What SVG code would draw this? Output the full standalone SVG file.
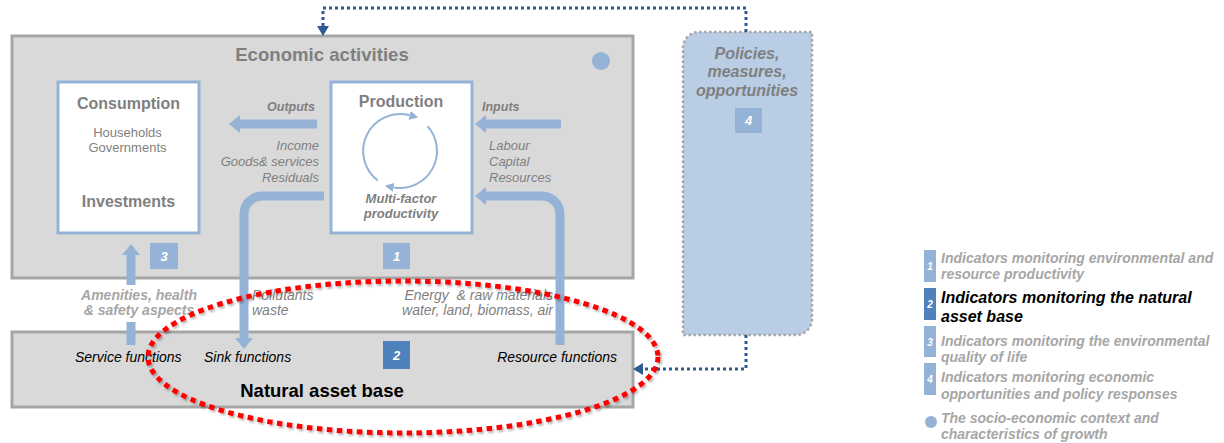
<svg xmlns="http://www.w3.org/2000/svg" width="1224" height="443" viewBox="0 0 1224 443">
<style>
text{font-family:"Liberation Sans",Arial,sans-serif;}
.box{fill:#d9d9d9;stroke:#a6a6a6;stroke-width:3;}
.inner{fill:#ffffff;stroke:#95b3d7;stroke-width:3;}
.flow{fill:none;stroke:#95b3d7;stroke-width:9;}
.cyc{fill:none;stroke:#95b3d7;stroke-width:2;}
.dot{fill:none;stroke:#2f5b92;stroke-width:3;stroke-dasharray:3 3;}
.h1{font-size:18.6px;font-weight:bold;fill:#7f7f7f;text-anchor:middle;}
.h2{font-size:16px;font-weight:bold;fill:#7f7f7f;text-anchor:middle;}
.sub{font-size:13px;fill:#7f7f7f;text-anchor:middle;}
.it{font-size:13px;font-style:italic;fill:#7f7f7f;}
.it2{font-size:14px;font-style:italic;fill:#7f7f7f;}
.bi{font-size:12.5px;font-style:italic;font-weight:bold;fill:#7f7f7f;}
.lit{font-size:14px;font-style:italic;font-weight:bold;fill:#a6a6a6;text-anchor:middle;}
.fn{font-size:14px;font-style:italic;fill:#000000;}
.badge{fill:#95b3d7;}
.badge2{fill:#4f81bd;}
.num{font-size:13px;font-style:italic;font-weight:bold;fill:#ffffff;text-anchor:middle;}
.lnum{font-size:10px;font-style:italic;font-weight:bold;fill:#ffffff;text-anchor:middle;}
.pol{font-size:16px;font-style:italic;font-weight:bold;fill:#7f7f7f;text-anchor:middle;}
.leg{font-size:14px;font-style:italic;font-weight:bold;fill:#a6a6a6;}
.leg2{font-size:16px;font-style:italic;font-weight:bold;fill:#000000;}
</style>
<defs>
<marker id="big" markerUnits="userSpaceOnUse" viewBox="0 0 11 18" markerWidth="11" markerHeight="18" refX="0" refY="9" orient="auto">
<path d="M0,0 L11,9 L0,18 Z" style="fill:#95b3d7;stroke:none"/>
</marker>
<marker id="small" markerUnits="userSpaceOnUse" viewBox="0 0 9 9" markerWidth="9" markerHeight="9" refX="0" refY="4.5" orient="auto">
<path d="M0,0 L9,4.5 L0,9 Z" style="fill:#95b3d7;stroke:none"/>
</marker>
<marker id="dk" markerUnits="userSpaceOnUse" viewBox="0 0 10 12" markerWidth="10" markerHeight="12" refX="0" refY="6" orient="auto">
<path d="M0,0 L10,6 L0,12 Z" style="fill:#2f5b92;stroke:none"/>
</marker>
<filter id="sh" x="-10%" y="-10%" width="120%" height="130%">
<feDropShadow dx="1.5" dy="2" stdDeviation="1.2" flood-color="#000000" flood-opacity="0.3"/>
</filter>
</defs>

<g id="economic-activities">
<rect class="box" x="12" y="36" width="621" height="242"/>
<text class="h1" x="322" y="61">Economic activities</text>
<circle cx="601" cy="61" r="9" fill="#95b3d7"/>
</g>

<g id="natural-asset-base">
<rect class="box" x="12" y="332" width="621" height="75"/>
<text x="322" y="397" style="font-size:18.5px;font-weight:bold;fill:#000;text-anchor:middle">Natural asset base</text>
<text class="fn" x="75" y="362">Service functions</text>
<text class="fn" x="204" y="362">Sink functions</text>
<text class="fn" x="617" y="362" text-anchor="end">Resource functions</text>
<rect class="badge2" x="383" y="341" width="27" height="28"/>
<text class="num" x="396.5" y="360">2</text>
</g>

<g id="consumption">
<rect class="inner" x="58" y="82" width="141" height="151"/>
<text class="h2" x="128.5" y="109">Consumption</text>
<text class="sub" x="127.5" y="137">Households</text>
<text class="sub" x="127.5" y="152">Governments</text>
<text class="h2" x="128.5" y="207">Investments</text>
<rect class="badge" x="150" y="243" width="28" height="26"/>
<text class="num" x="164" y="261">3</text>
</g>

<g id="production">
<rect class="inner" x="331" y="82" width="141" height="151"/>
<text class="h2" x="401" y="107">Production</text>
<path class="cyc" d="M377.7,180.5 A37,37 0 0 1 409.6,115.3" marker-end="url(#small)"/>
<path class="cyc" d="M427.5,126.2 A37,37 0 0 1 393.6,187.4" marker-end="url(#small)"/>
<text x="401" y="203" style="font-size:13px;font-style:italic;font-weight:bold;fill:#7f7f7f;text-anchor:middle">Multi-factor</text>
<text x="401" y="218" style="font-size:13px;font-style:italic;font-weight:bold;fill:#7f7f7f;text-anchor:middle">productivity</text>
<rect class="badge" x="383" y="243" width="27" height="26"/>
<text class="num" x="396.5" y="261">1</text>
</g>

<g id="policies">
<path d="M699,32 H812 V319 A16,16 0 0 1 796,335 H683 V48 A16,16 0 0 1 699,32 Z" style="fill:#b9cde5;stroke:#a6a6a6;stroke-width:2.5;stroke-dasharray:2.5 2.5"/>
<text class="pol" x="747" y="59">Policies,</text>
<text class="pol" x="747" y="77">measures,</text>
<text class="pol" x="747" y="96">opportunities</text>
<rect class="badge" x="735" y="108" width="27" height="25"/>
<text class="num" x="748.5" y="125">4</text>
</g>

<g id="connectors">
<line class="flow" x1="317" y1="124" x2="240" y2="124" marker-end="url(#big)"/>
<text class="bi" x="315" y="111" text-anchor="end">Outputs</text>
<text class="it" x="319" y="150" text-anchor="end">Income</text>
<text class="it" x="319" y="166" text-anchor="end">Goods&amp; services</text>
<text class="it" x="319" y="182" text-anchor="end">Residuals</text>

<line class="flow" x1="561" y1="124" x2="486" y2="124" marker-end="url(#big)"/>
<text class="bi" x="482" y="111">Inputs</text>
<text class="it" x="489" y="150">Labour</text>
<text class="it" x="489" y="166">Capital</text>
<text class="it" x="489" y="182">Resources</text>

<path class="flow" d="M324,196 H262 A18,18 0 0 0 244,214 V338" marker-end="url(#big)"/>
<path class="flow" d="M560,345 V214 A18,18 0 0 0 542,196 H486" marker-end="url(#big)"/>

<line class="flow" x1="131" y1="345" x2="131" y2="322"/>
<line class="flow" x1="131" y1="285" x2="131" y2="255" marker-end="url(#big)"/>
<text class="lit" x="139" y="300">Amenities, health</text>
<text class="lit" x="139" y="315">&amp; safety aspects</text>

<text class="it2" x="252" y="300">Pollutants</text>
<text class="it2" x="252" y="315">waste</text>
<text class="it2" x="553" y="300" text-anchor="end" style="white-space:pre">Energy  &amp; raw materials</text>
<text class="it2" x="553" y="315" text-anchor="end">water, land, biomass, air</text>

<path class="dot" d="M746,32 V8 H323 V26" marker-end="url(#dk)"/>
<path class="dot" d="M746,335 V369 H643" marker-end="url(#dk)"/>
</g>

<g id="focus-ellipse">
<ellipse cx="403" cy="357" rx="255" ry="76" style="fill:none;stroke:#ff0000;stroke-width:5;stroke-dasharray:5.5 4.5" filter="url(#sh)"/>
</g>

<g id="legend">
<rect class="badge" x="924" y="250" width="12" height="32"/>
<text class="lnum" x="930" y="270">1</text>
<text class="leg" x="941" y="263">Indicators monitoring  environmental and</text>
<text class="leg" x="941" y="279">resource productivity</text>

<rect class="badge2" x="924" y="288" width="12" height="32"/>
<text class="lnum" x="930" y="308">2</text>
<text class="leg2" x="941" y="303">Indicators monitoring the natural</text>
<text class="leg2" x="941" y="322">asset base</text>

<rect class="badge" x="924" y="326" width="12" height="31"/>
<text class="lnum" x="930" y="346">3</text>
<text class="leg" x="941" y="346">Indicators monitoring the environmental</text>
<text class="leg" x="941" y="362">quality of life</text>

<rect class="badge" x="924" y="363" width="12" height="32"/>
<text class="lnum" x="930" y="383">4</text>
<text class="leg" x="941" y="382">Indicators monitoring economic</text>
<text class="leg" x="941" y="399">opportunities and policy responses</text>

<circle cx="931" cy="422" r="6" fill="#95b3d7"/>
<text class="leg" x="941" y="423">The socio-economic context and</text>
<text class="leg" x="941" y="439">characteristics of growth</text>
</g>
</svg>
